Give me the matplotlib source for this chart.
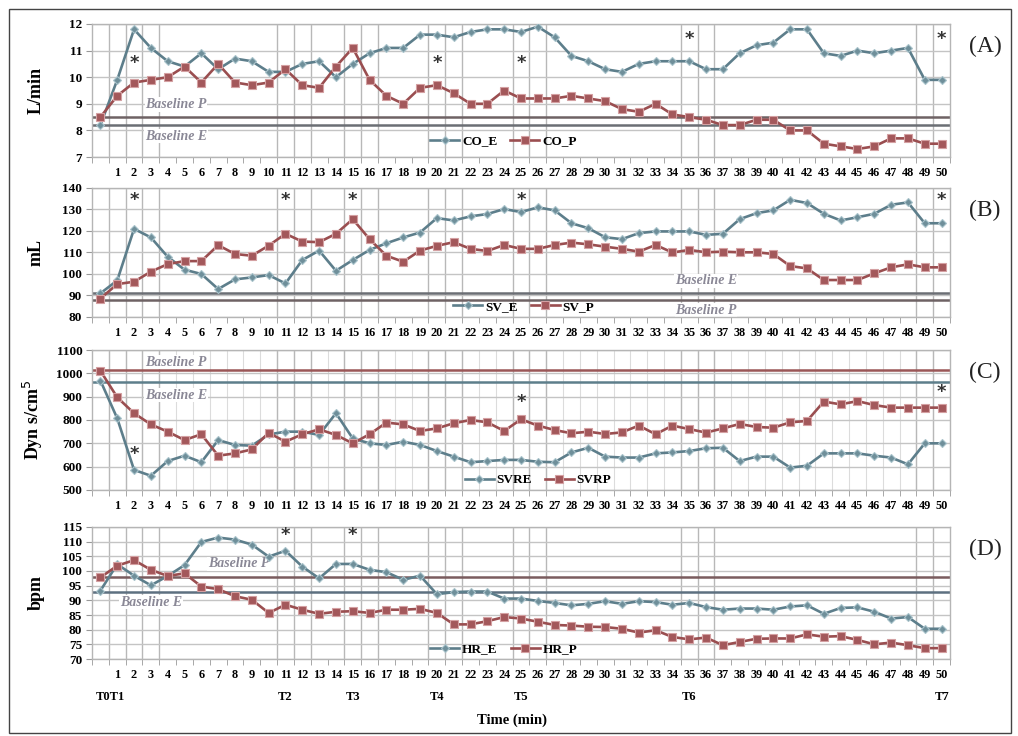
import matplotlib
matplotlib.use("Agg")
import matplotlib.pyplot as plt
from matplotlib.patches import Rectangle

# ---------------- data ----------------
minutes = list(range(0, 51))
tick_labels = [""] + [str(i) for i in range(1, 51)]

co_e = [8.2, 9.9, 11.8, 11.1, 10.6, 10.4, 10.9, 10.3, 10.7, 10.6, 10.2, 10.2, 10.5, 10.6, 10.0,
        10.5, 10.9, 11.1, 11.1, 11.6, 11.6, 11.5, 11.7, 11.8, 11.8, 11.7, 11.9, 11.5, 10.8, 10.6,
        10.3, 10.2, 10.5, 10.6, 10.6, 10.6, 10.3, 10.3, 10.9, 11.2, 11.3, 11.8, 11.8, 10.9, 10.8,
        11.0, 10.9, 11.0, 11.1, 9.9, 9.9]
co_p = [8.5, 9.3, 9.8, 9.9, 10.0, 10.4, 9.8, 10.5, 9.8, 9.7, 9.8, 10.3, 9.7, 9.6, 10.4,
        11.1, 9.9, 9.3, 9.0, 9.6, 9.7, 9.4, 9.0, 9.0, 9.5, 9.2, 9.2, 9.2, 9.3, 9.2,
        9.1, 8.8, 8.7, 9.0, 8.6, 8.5, 8.4, 8.2, 8.2, 8.4, 8.4, 8.0, 8.0, 7.5, 7.4,
        7.3, 7.4, 7.7, 7.7, 7.5, 7.5]
sv_e = [91, 97, 121, 117, 108, 102, 100, 93, 97.5, 98.4, 99.5, 95.6, 106.5, 110.9, 101.5,
        106.5, 111.2, 114.3, 117, 119.3, 126, 124.9, 126.8, 127.9, 130.2, 128.8, 131, 129.6, 123.6, 121.3,
        117.1, 116.2, 119, 119.8, 119.8, 119.8, 118.2, 118.7, 125.5, 128.3, 129.6, 134.5, 133, 128, 124.9,
        126.4, 128, 132.2, 133.3, 123.6, 123.6]
sv_p = [88.6, 95.3, 96.4, 101.1, 104.6, 106, 106, 113.4, 109.3, 108.5, 113.2, 118.7, 115.1, 114.8, 118.7,
        125.5, 116.2, 108.5, 105.7, 110.9, 113.1, 114.8, 111.7, 110.7, 113.5, 111.7, 111.7, 113.5, 114.6, 113.8,
        112.7, 111.7, 110.4, 113.5, 110, 111.2, 110.1, 110.4, 110.1, 110.1, 109.3, 103.7, 102.6, 97.2, 97.2,
        97.2, 100.3, 103.1, 104.5, 103.1, 103.1]
svr_e = [969, 807, 586, 561, 624, 647, 619, 714, 693, 690, 738, 750, 750, 736, 829,
         721, 700, 693, 707, 693, 667, 643, 619, 624, 629, 629, 621, 619, 661, 681,
         643, 639, 639, 657, 661, 667, 679, 681, 624, 643, 643, 596, 604, 657, 657,
         657, 647, 639, 610, 700, 700]
svr_p = [1011, 897, 829, 781, 750, 714, 739, 647, 657, 674, 745, 707, 739, 760, 736,
         700, 739, 789, 781, 753, 764, 786, 800, 790, 753, 803, 776, 757, 743, 750,
         740, 747, 776, 739, 776, 761, 746, 764, 783, 770, 767, 790, 796, 879, 867,
         881, 864, 853, 853, 853, 853]
hr_e = [93.3, 102.3, 98.4, 95.1, 98.3, 102.0, 109.9, 111.4, 110.7, 109.0, 104.9, 106.9, 101.5, 97.5, 102.4,
        102.4, 100.4, 99.6, 97.0, 98.4, 92.1, 92.8, 93.0, 93.0, 90.6, 90.6, 89.8, 89.1, 88.3, 88.8,
        89.7, 88.8, 89.7, 89.4, 88.5, 89.1, 87.7, 86.8, 87.2, 87.2, 86.8, 87.9, 88.3, 85.4, 87.4,
        87.6, 86.1, 83.8, 84.3, 80.3, 80.3]
hr_p = [97.8, 101.8, 103.7, 100.4, 98.3, 99.2, 94.7, 93.8, 91.4, 90.2, 85.7, 88.5, 86.8, 85.4, 86.1,
        86.3, 85.7, 86.8, 86.8, 87.1, 85.7, 81.8, 81.8, 82.9, 84.3, 83.8, 82.7, 81.6, 81.4, 81.0,
        80.9, 80.3, 79.0, 79.8, 77.5, 76.7, 77.3, 74.7, 75.8, 76.9, 77.0, 77.0, 78.4, 77.6, 77.8,
        76.5, 75.0, 75.6, 74.7, 73.7, 73.7]

baselines_a = {"Baseline P": 8.5, "Baseline E": 8.2}
baselines_b = {"Baseline E": 91, "Baseline P": 88}
baselines_c = {"Baseline P": 1013, "Baseline E": 962}
baselines_d = {"Baseline P": 98, "Baseline E": 93}

stars_a = [2, 20, 25, 35, 50]
stars_b = [2, 11, 15, 25, 50]
stars_c = [2, 25, 50]
stars_d = [11, 15]

time_labels = ["T0T1", "T2", "T3", "T4", "T5", "T6", "T7"]
time_positions = [0.6, 11, 15, 20, 25, 35, 50]

# ---------------- style ----------------
SERIF = "Liberation Serif"
E_LINE = "#5d7e8b"
E_FACE = "#6f8f9a"
E_EDGE = "#a9c3cb"
P_LINE = "#9a4e50"
P_FACE = "#a3585b"
P_EDGE = "#d4a0a2"
GRID = "#c4c4c4"
TEXT_GRAY = "#8a8896"

W, H = 1018, 736
fig = plt.figure(figsize=(W / 100, H / 100), dpi=100)
fig.patch.set_facecolor("white")
fig.add_artist(Rectangle((9 / W, 3 / H), 1002 / W, 724 / H, transform=fig.transFigure,
                         fill=False, edgecolor="#444444", linewidth=1.0))

left = 92 / W
width = (950 - 92) / W

panels = [
    dict(top=24, bottom=157, ylim=(7, 12), ystep=1, ylabel="L/min", letter="(A)",
         e=co_e, p=co_p, names=("CO_E", "CO_P"), base=baselines_a, stars=stars_a, star_y=10.55,
         star_y_alt={35: 11.45, 50: 11.45},
         base_col={"Baseline P": "#6e6264", "Baseline E": "#6b6e74"},
         base_text={"Baseline P": (4.5, 8.97), "Baseline E": (4.5, 7.78)},
         leg=(0.385, 0.12), vgrid_all=False),
    dict(top=188, bottom=317, ylim=(80, 140), ystep=10, ylabel="mL", letter="(B)",
         e=sv_e, p=sv_p, names=("SV_E", "SV_P"), base=baselines_b, stars=stars_b, star_y=134.3,
         star_y_alt={},
         base_col={"Baseline E": "#6b6e74", "Baseline P": "#6e6264"},
         base_text={"Baseline E": (36.0, 96.8), "Baseline P": (36.0, 83.2)},
         leg=(0.412, 0.08), vgrid_all=False),
    dict(top=350, bottom=490, ylim=(500, 1100), ystep=100, ylabel="Dyn s/cm$^5$", letter="(C)",
         e=svr_e, p=svr_p, names=("SVRE", "SVRP"), base=baselines_c, stars=stars_c, star_y=655,
         star_y_alt={25: 878, 50: 920},
         base_col={"Baseline P": "#9a5657", "Baseline E": "#5d7e8b"},
         base_text={"Baseline P": (4.5, 1048), "Baseline E": (4.5, 906)},
         leg=(0.425, 0.07), vgrid_all=True),
    dict(top=527, bottom=659, ylim=(70, 115), ystep=5, ylabel="bpm", letter="(D)",
         e=hr_e, p=hr_p, names=("HR_E", "HR_P"), base=baselines_d, stars=stars_d, star_y=112.2,
         star_y_alt={},
         base_col={"Baseline P": "#7a5c5e", "Baseline E": "#5d7080"},
         base_text={"Baseline P": (8.2, 102.4), "Baseline E": (3.0, 89.4)},
         leg=(0.385, 0.075), vgrid_all=False),
]

dark_vlines = [0.5, 1.5, 2.5, 3.5, 10.5, 11.5, 12.5, 14.5, 15.5, 16.5, 19.5, 20.5, 21.5,
               24.5, 25.5, 26.5, 34.5, 35.5, 36.5, 48.5, 49.5]

axes = []
for pn in panels:
    ax = fig.add_axes([left, 1 - pn["bottom"] / H, width, (pn["bottom"] - pn["top"]) / H])
    axes.append(ax)
    ax.set_xlim(-0.5, 50.5)
    ax.set_ylim(*pn["ylim"])
    lo, hi = pn["ylim"]
    yt = [lo + i * pn["ystep"] for i in range(int(round((hi - lo) / pn["ystep"])) + 1)]
    ax.set_yticks(yt)
    ax.set_yticklabels([str(v) for v in yt], fontfamily=SERIF, fontweight="bold", fontsize=9.5)
    ax.set_xticks(minutes)
    ax.set_xticklabels(tick_labels, fontfamily=SERIF, fontweight="bold", fontsize=8.8)
    ax.set_xticks([i - 0.5 for i in range(52)], minor=True)
    ax.tick_params(axis="x", which="major", length=0, pad=7)
    ax.tick_params(axis="x", which="minor", length=4, color="#999999", direction="out")
    ax.tick_params(axis="y", length=4, color="#999999", pad=3)
    for s in ax.spines.values():
        s.set_color("#b5b5b5")
        s.set_linewidth(1.0)
    ax.yaxis.grid(True, color=GRID, linewidth=1.0)
    ax.set_axisbelow(True)
    if pn["vgrid_all"]:
        for xv in range(51):
            ax.axvline(xv + 0.5, color="#dcdcdc", linewidth=0.8, zorder=0)
    for xv in dark_vlines:
        ax.axvline(xv, color="#b8b8b8", linewidth=1.0, zorder=0.5)

    # baselines
    for name, val in pn["base"].items():
        ax.axhline(val, color=pn["base_col"][name], linewidth=1.8, zorder=1)
        tx, ty = pn["base_text"][name]
        ax.text(tx, ty, name, fontfamily=SERIF, fontstyle="italic", fontweight="bold",
                fontsize=10, color=TEXT_GRAY, ha="center", va="center", zorder=2,
                bbox=dict(facecolor="white", edgecolor="none", pad=0.5))

    ax.plot(minutes, pn["e"], color=E_LINE, linewidth=1.9, marker="D", markersize=4.5,
            markerfacecolor=E_FACE, markeredgecolor=E_EDGE, markeredgewidth=0.8, zorder=3,
            label=pn["names"][0])
    ax.plot(minutes, pn["p"], color=P_LINE, linewidth=1.9, marker="s", markersize=6,
            markerfacecolor=P_FACE, markeredgecolor=P_EDGE, markeredgewidth=0.8, zorder=4,
            label=pn["names"][1])

    for s_x in pn["stars"]:
        sy = pn["star_y_alt"].get(s_x, pn["star_y"])
        ax.text(s_x, sy, "*", fontfamily="DejaVu Sans", fontsize=13, fontweight="bold",
                color="#333333", ha="center", va="center", zorder=5)

    leg = ax.legend(loc="center left", bbox_to_anchor=pn["leg"], ncol=2, frameon=False,
                    prop=dict(family=SERIF, weight="bold", size=9.5), handlelength=2.2,
                    handletextpad=0.2, columnspacing=1.0, borderpad=0.1)
    leg.set_zorder(6)

    ax.set_ylabel(pn["ylabel"], fontfamily=SERIF, fontweight="bold", fontsize=13)
    ax.yaxis.set_label_coords(-0.055, 0.5)

    fig.text(985 / W, 1 - (pn["top"] + 22) / H, pn["letter"], fontfamily=SERIF,
             fontsize=17, ha="center", va="center", color="#222222")

# Time point labels below last panel
axd = axes[-1]
for lab, pos in zip(time_labels, time_positions):
    axd.text(pos, -0.29, lab, transform=axd.get_xaxis_transform(), fontfamily=SERIF,
             fontweight="bold", fontsize=9, ha="center", va="center")
fig.text(512 / W, 1 - 720 / H, "Time (min)", fontfamily=SERIF, fontweight="bold",
         fontsize=10.5, ha="center", va="center")

fig.savefig("out.png", dpi=100)
